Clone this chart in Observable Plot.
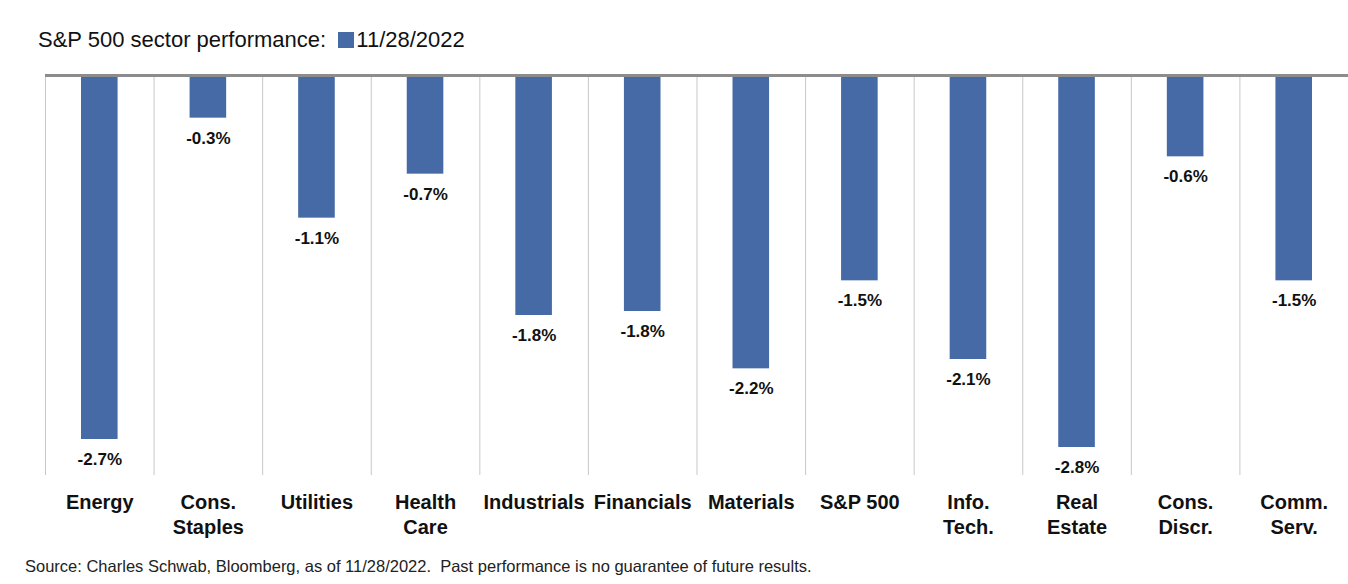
<!DOCTYPE html>
<html>
<head>
<meta charset="utf-8">
<script src="https://cdn.jsdelivr.net/npm/d3@7"></script>
<script src="https://cdn.jsdelivr.net/npm/@observablehq/plot@0.6"></script>
<style>
  html, body { margin: 0; padding: 0; background: #fff; }
  body { width: 1348px; height: 584px; overflow: hidden; font-family: "Liberation Sans", Arial, sans-serif; color: #111; }
  #title { height: 60px; box-sizing: border-box; padding: 26px 0 0 38px; font-size: 22px; line-height: 28px; white-space: pre; }
  #title .sw { display: inline-block; width: 16px; height: 16px; background: #456aa6; margin: 0 2px 0 6px; vertical-align: -1px; }
  #caption { padding: 7px 0 0 25px; font-size: 16.5px; line-height: 18px; white-space: pre; color: #222; }
  svg { display: block; }
</style>
</head>
<body>
<div id="title"></div>
<div id="chart"></div>
<div id="caption"></div>
<script>
const titleText = "S&P 500 sector performance:";
const legendLabel = "11/28/2022";
const captionText = "Source: Charles Schwab, Bloomberg, as of 11/28/2022.  Past performance is no guarantee of future results.";

const sectors = ["Energy", "Cons. Staples", "Utilities", "Health Care", "Industrials", "Financials", "Materials", "S&P 500", "Info. Tech.", "Real Estate", "Cons. Discr.", "Comm. Serv."];
const tickLabels = ["Energy", "Cons.\nStaples", "Utilities", "Health\nCare", "Industrials", "Financials", "Materials", "S&P 500", "Info.\nTech.", "Real\nEstate", "Cons.\nDiscr.", "Comm.\nServ."];
const returns = [-2.73, -0.32, -1.07, -0.74, -1.80, -1.77, -2.20, -1.54, -2.13, -2.79, -0.61, -1.54];
const yDomain = [-3, 0];

const data = sectors.map((s, i) => ({ sector: s, value: returns[i] }));

const t = document.getElementById("title");
t.appendChild(document.createTextNode(titleText + " "));
const sw = document.createElement("span"); sw.className = "sw"; t.appendChild(sw);
t.appendChild(document.createTextNode(legendLabel));
document.getElementById("caption").textContent = captionText;

const W = 1348, ML = 45, MR = 0;
const bandW = (W - ML - MR) / sectors.length;

const chart = Plot.plot({
  width: W,
  height: 490,
  marginTop: 15,
  marginLeft: ML,
  marginRight: MR,
  marginBottom: 75,
  style: { fontFamily: "'Liberation Sans', Arial, sans-serif", background: "white", color: "#111" },
  x: { domain: sectors, padding: 0, round: false, label: null, axis: null },
  y: { domain: yDomain, axis: null },
  marks: [
    Plot.ruleX(sectors, { x: d => d, dx: -bandW / 2, y1: yDomain[0], y2: 0, stroke: "#c8c8c8", strokeWidth: 1 }),
    Plot.barY(data, { x: "sector", y: "value", fill: "#456aa6", insetLeft: 36, insetRight: 36 }),
    Plot.ruleY([0], { stroke: "#8c8c8c", strokeWidth: 3 }),
    Plot.text(data, { x: "sector", y: "value", text: d => d.value.toFixed(1) + "%", dy: 20, fontWeight: "bold", fontSize: 17, fill: "#111" }),
    Plot.axisX({ tickSize: 0, tickPadding: 16, fontSize: 20, fontWeight: "bold", lineHeight: 1.25, label: null, tickFormat: d => tickLabels[sectors.indexOf(d)] })
  ]
});
document.getElementById("chart").appendChild(chart);
</script>
</body>
</html>
